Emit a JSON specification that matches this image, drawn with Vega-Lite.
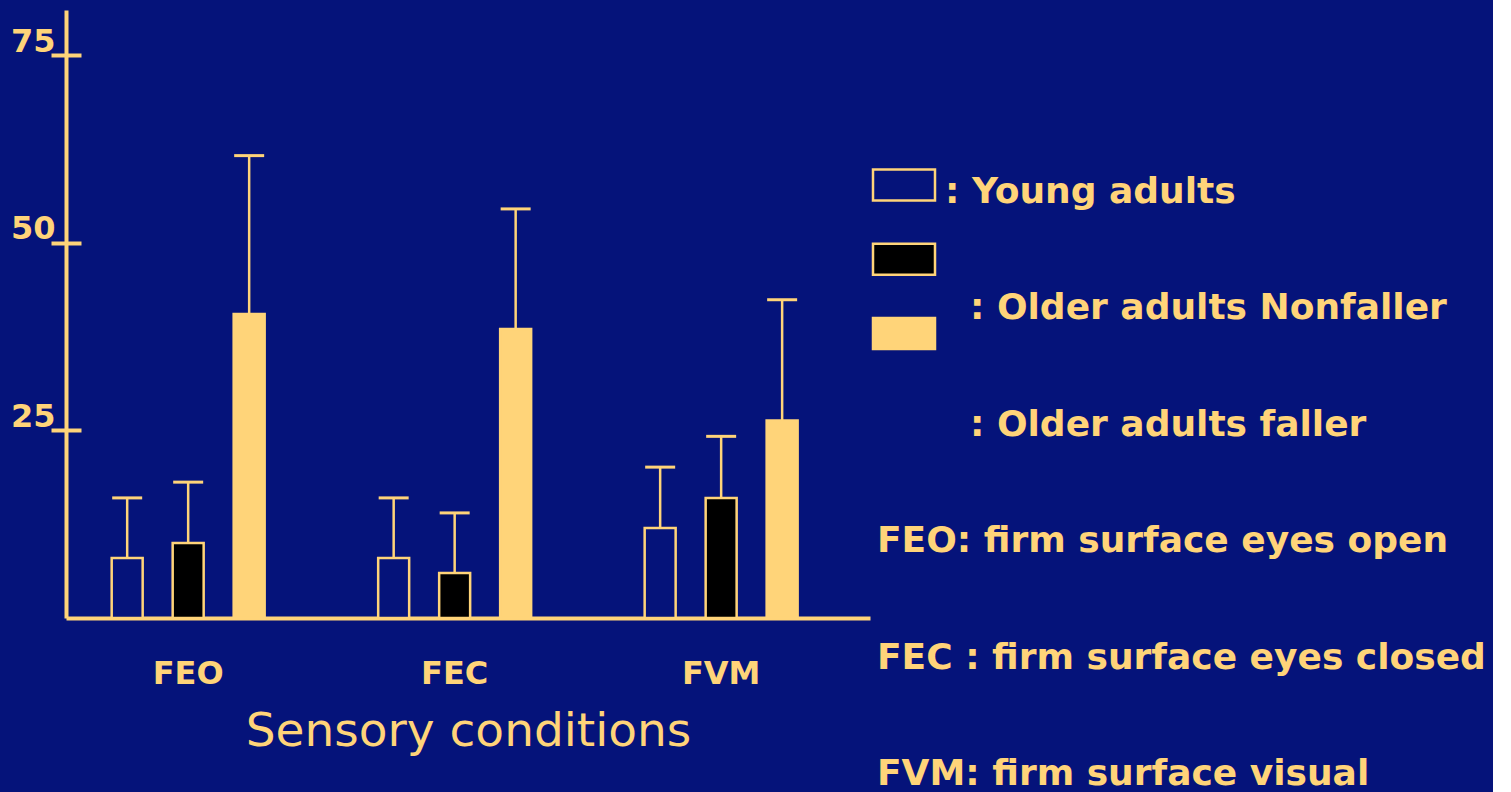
{
  "$schema": "https://vega.github.io/schema/vega-lite/v6.json",
  "background": "#05137A",
  "padding": {"left": 10, "top": 10, "right": 0, "bottom": 0},
  "spacing": -2,
  "config": {"view": {"stroke": null}, "font": "DejaVu Sans"},
  "datasets": {
    "bars": [
      {"condition": "FEO", "group": "Young adults", "mean": 8.0, "upper": 16.0},
      {"condition": "FEO", "group": "Older adults Nonfaller", "mean": 10.0, "upper": 18.1},
      {"condition": "FEO", "group": "Older adults faller", "mean": 40.5, "upper": 61.6},
      {"condition": "FEC", "group": "Young adults", "mean": 8.0, "upper": 16.0},
      {"condition": "FEC", "group": "Older adults Nonfaller", "mean": 6.0, "upper": 14.0},
      {"condition": "FEC", "group": "Older adults faller", "mean": 38.5, "upper": 54.5},
      {"condition": "FVM", "group": "Young adults", "mean": 12.0, "upper": 20.1},
      {"condition": "FVM", "group": "Older adults Nonfaller", "mean": 16.0, "upper": 24.2},
      {"condition": "FVM", "group": "Older adults faller", "mean": 26.3, "upper": 42.4}
    ],
    "legend": [
      {"slot": 1, "group": "Young adults"},
      {"slot": 2, "group": "Older adults Nonfaller"},
      {"slot": 3, "group": "Older adults faller"}
    ],
    "notes": [
      {"line": 1, "kind": "young", "label": ": Young adults"},
      {"line": 2, "kind": "older", "label": ": Older adults Nonfaller"},
      {"line": 3, "kind": "older", "label": ": Older adults faller"},
      {"line": 4, "kind": "abbr", "label": "FEO: firm surface eyes open"},
      {"line": 5, "kind": "abbr", "label": "FEC : firm surface eyes closed"},
      {"line": 6, "kind": "abbr", "label": "FVM: firm surface visual"}
    ]
  },
  "hconcat": [
    {
      "width": 804,
      "height": 608,
      "data": {"name": "bars"},
      "encoding": {
        "x": {
          "field": "condition", "type": "nominal", "sort": ["FEO", "FEC", "FVM"],
          "scale": {"paddingInner": 0.426, "paddingOuter": 0.2215, "align": 0.387},
          "axis": {
            "title": "Sensory conditions", "titleFontSize": 47, "titleFontWeight": "normal",
            "titleColor": "#FFD479", "titlePadding": 19, "titleFont": "DejaVu Sans",
            "labelFontSize": 32, "labelFontWeight": "bold", "labelColor": "#FFD479",
            "labelPadding": 40, "labelAngle": 0, "ticks": false, "tickSize": 0,
            "domainColor": "#FFD479", "domainWidth": 4, "grid": false
          }
        },
        "xOffset": {
          "field": "group", "type": "nominal",
          "sort": ["Young adults", "Older adults Nonfaller", "Older adults faller"],
          "scale": {"paddingInner": 0.492, "paddingOuter": 0}
        }
      },
      "layer": [
        {
          "mark": {"type": "bar", "stroke": "#FFD479", "strokeWidth": 2.5},
          "encoding": {
            "y": {
              "field": "mean", "type": "quantitative",
              "scale": {"domain": [0, 81], "nice": false, "zero": true},
              "axis": {"orient": "left", "domain": true, "domainWidth": 4, "domainColor": "#FFD479",
                       "ticks": false, "labels": false, "grid": false, "title": null}
            },
            "fill": {
              "field": "group", "type": "nominal",
              "scale": {"domain": ["Young adults", "Older adults Nonfaller", "Older adults faller"],
                        "range": ["#05137A", "#000000", "#FFD479"]},
              "legend": null
            }
          }
        },
        {
          "mark": {"type": "rule", "color": "#FFD479", "strokeWidth": 2.5},
          "encoding": {
            "y": {
              "field": "mean", "type": "quantitative",
              "axis": {"orient": "left", "domain": false, "grid": false, "ticks": true,
                       "tickSize": 30, "tickWidth": 4, "tickColor": "#FFD479", "offset": -15,
                       "values": [25, 50, 75], "labelFontSize": 32, "labelFontWeight": "bold",
                       "labelColor": "#FFD479", "labelPadding": -4, "labelBaseline": "alphabetic",
                       "labelOffset": -4, "title": null}
            },
            "y2": {"field": "upper"}
          }
        },
        {
          "mark": {"type": "tick", "color": "#FFD479", "size": 30, "thickness": 3, "opacity": 1},
          "encoding": {
            "y": {"field": "upper", "type": "quantitative", "axis": null}
          }
        }
      ],
      "resolve": {"axis": {"y": "independent"}}
    },
    {
      "width": 620,
      "height": 782,
      "encoding": {
        "x": {"datum": 0, "type": "quantitative", "scale": {"domain": [0, 1]}, "axis": null}
      },
      "layer": [
        {
          "data": {"name": "legend"},
          "mark": {"type": "point", "shape": "M0,-0.5H2V0.5H0Z", "size": 3844, "filled": true,
                   "stroke": "#FFD479", "strokeWidth": 2.5, "opacity": 1},
          "encoding": {
            "y": {"field": "slot", "type": "quantitative",
                  "scale": {"domain": [-1.357, 9.175], "reverse": true, "nice": false, "zero": false},
                  "axis": null},
            "fill": {
              "field": "group", "type": "nominal",
              "scale": {"domain": ["Young adults", "Older adults Nonfaller", "Older adults faller"],
                        "range": ["#05137A", "#000000", "#FFD479"]},
              "legend": null
            }
          }
        },
        {
          "data": {"name": "notes"},
          "transform": [{"filter": "datum.kind === 'young'"}],
          "mark": {"type": "text", "align": "left", "baseline": "alphabetic", "dx": 72,
                   "fontSize": 36, "fontWeight": "bold", "color": "#FFD479"},
          "encoding": {
            "y": {"field": "line", "type": "ordinal",
                  "scale": {"type": "point", "domain": [1, 2, 3, 4, 5, 6], "padding": 0.859, "align": 0.965},
                  "axis": null},
            "text": {"field": "label"}
          }
        },
        {
          "data": {"name": "notes"},
          "transform": [{"filter": "datum.kind === 'older'"}],
          "mark": {"type": "text", "align": "left", "baseline": "alphabetic", "dx": 97,
                   "fontSize": 36, "fontWeight": "bold", "color": "#FFD479"},
          "encoding": {
            "y": {"field": "line", "type": "ordinal",
                  "scale": {"type": "point", "domain": [1, 2, 3, 4, 5, 6], "padding": 0.859, "align": 0.965},
                  "axis": null},
            "text": {"field": "label"}
          }
        },
        {
          "data": {"name": "notes"},
          "transform": [{"filter": "datum.kind === 'abbr'"}],
          "mark": {"type": "text", "align": "left", "baseline": "alphabetic", "dx": 4,
                   "fontSize": 36, "fontWeight": "bold", "color": "#FFD479"},
          "encoding": {
            "y": {"field": "line", "type": "ordinal",
                  "scale": {"type": "point", "domain": [1, 2, 3, 4, 5, 6], "padding": 0.859, "align": 0.965},
                  "axis": null},
            "text": {"field": "label"}
          }
        }
      ],
      "resolve": {"scale": {"y": "independent"}}
    }
  ]
}
